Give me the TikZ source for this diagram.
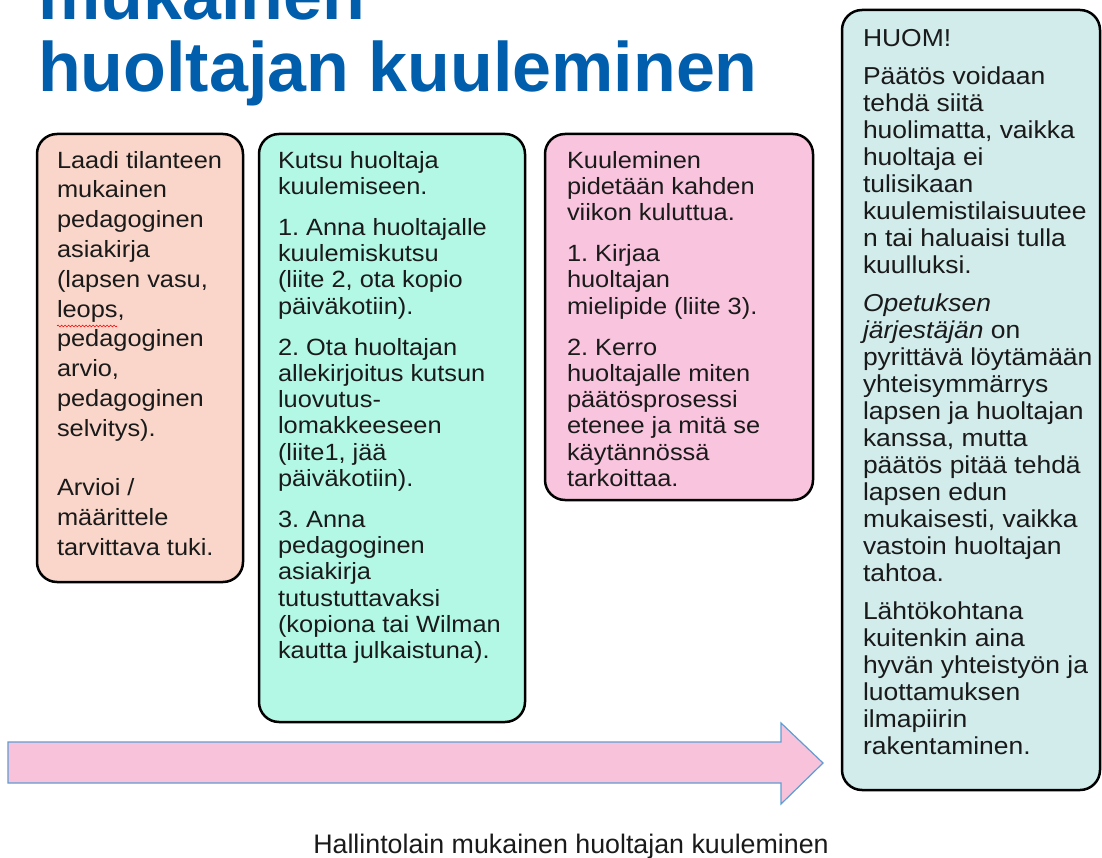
\documentclass[tikz,border=0pt]{standalone}
\usepackage{fontspec}
\setmainfont{Liberation Sans}
\newfontfamily\boxfont[FakeStretch=1.08]{Liberation Sans}
\usetikzlibrary{positioning,decorations.pathmorphing}
\frenchspacing

\definecolor{titleblue}{RGB}{0,94,172}
\definecolor{textcol}{RGB}{26,26,26}
\definecolor{laadicol}{RGB}{249,214,201}
\definecolor{kutsucol}{RGB}{179,248,229}
\definecolor{kuulecol}{RGB}{249,196,221}
\definecolor{huomcol}{RGB}{209,236,235}
\definecolor{arrowpink}{RGB}{248,194,219}
\definecolor{arrowblue}{RGB}{96,156,210}

\tikzset{
	stepbox/.style={draw=black, line width=2.5pt, rounded corners=20pt, anchor=north west, outer sep=0pt, inner sep=0pt},
	boxtext/.style={anchor=north west, align=left, inner sep=0pt, outer sep=0pt, text=textcol, font=\boxfont\fontsize{23.5}{26.2}\selectfont, execute at begin node={\rule{0pt}{20pt}}},
	titletext/.style={anchor=base west, inner sep=0pt, text=titleblue, font=\bfseries\fontsize{70}{72}\selectfont},
}

\begin{document}
\begin{tikzpicture}[x=1pt,y=-1pt]
		%%%%% START %%%%%
		\useasboundingbox (0,0) rectangle (1102,858);
		\clip (0,0) rectangle (1102,858);
		
		% title, cut at the top
		\node[titletext] (title1) at (38,20) {mukainen};
		\node[titletext] (title2) at (38,92) {huoltajan kuuleminen};
		
		% time arrow
		\draw[line width=1.2pt, draw=arrowblue, fill=arrowpink, line join=miter] (8,742) -- (781,742) -- (781,723) -- (823,763) -- (781,804) -- (781,783) -- (8,783) -- cycle;
		
		% step boxes
		\node[stepbox, fill=laadicol, minimum width=206pt, minimum height=448pt] (laadi) at (37,134) {};
		\node[stepbox, fill=kutsucol, minimum width=266pt, minimum height=588pt] (kutsu) at (259,134) {};
		\node[stepbox, fill=kuulecol, minimum width=268pt, minimum height=366pt] (kuule) at (545,134) {};
		\node[stepbox, fill=huomcol, minimum width=258pt, minimum height=780pt] (huom) at (842,10) {};
		
		\node[boxtext, font=\boxfont\fontsize{23.5}{29.8}\selectfont] (laaditxt) at ([xshift=20pt, yshift=-17pt]laadi.north west) {Laadi tilanteen\\ mukainen\\ pedagoginen\\ asiakirja\\ (lapsen vasu,\\ leops,\\ pedagoginen\\ arvio,\\ pedagoginen\\ selvitys).\\[29.8pt] Arvioi /\\ määrittele\\ tarvittava tuki.};
		\draw[red, line width=0.6pt, decorate, decoration={snake, amplitude=0.9pt, segment length=3.5pt}] (57,326) -- (117,326);
		
		\node[boxtext] (kutsutxt) at ([xshift=19pt, yshift=-17pt]kutsu.north west) {Kutsu huoltaja\\ kuulemiseen.\\[15pt] 1. Anna huoltajalle\\ kuulemiskutsu\\ (liite 2, ota kopio\\ päiväkotiin).\\[15pt] 2. Ota huoltajan\\ allekirjoitus kutsun\\ luovutus-\\ lomakkeeseen\\ (liite1, jää\\ päiväkotiin).\\[15pt] 3. Anna\\ pedagoginen\\ asiakirja\\ tutustuttavaksi\\ (kopiona tai Wilman\\ kautta julkaistuna).};
		
		\node[boxtext] (kuuletxt) at ([xshift=22pt, yshift=-17pt]kuule.north west) {Kuuleminen\\ pidetään kahden\\ viikon kuluttua.\\[15pt] 1. Kirjaa\\ huoltajan\\ mielipide (liite 3).\\[15pt] 2. Kerro\\ huoltajalle miten\\ päätösprosessi\\ etenee ja mitä se\\ käytännössä\\ tarkoittaa.};
		
		\node[boxtext, font=\boxfont\fontsize{24.5}{27}\selectfont] (huomtxt) at ([xshift=21pt, yshift=-19pt]huom.north west) {HUOM!\\[11pt] Päätös voidaan\\ tehdä siitä\\ huolimatta, vaikka\\ huoltaja ei\\ tulisikaan\\ kuulemistilaisuutee\\ n tai haluaisi tulla\\ kuulluksi.\\[11pt] \textit{Opetuksen}\\ \textit{järjestäjän} on\\ pyrittävä löytämään\\ yhteisymmärrys\\ lapsen ja huoltajan\\ kanssa, mutta\\ päätös pitää tehdä\\ lapsen edun\\ mukaisesti, vaikka\\ vastoin huoltajan\\ tahtoa.\\[11pt] Lähtökohtana\\ kuitenkin aina\\ hyvän yhteistyön ja\\ luottamuksen\\ ilmapiirin\\ rakentaminen.};
		
		% caption
		\node[anchor=base, inner sep=0pt, text=textcol, font=\fontsize{26.8}{30}\selectfont] (caption) at (571,853) {Hallintolain mukainen huoltajan kuuleminen};
		%%%%% END %%%%%
\end{tikzpicture}
\end{document}
